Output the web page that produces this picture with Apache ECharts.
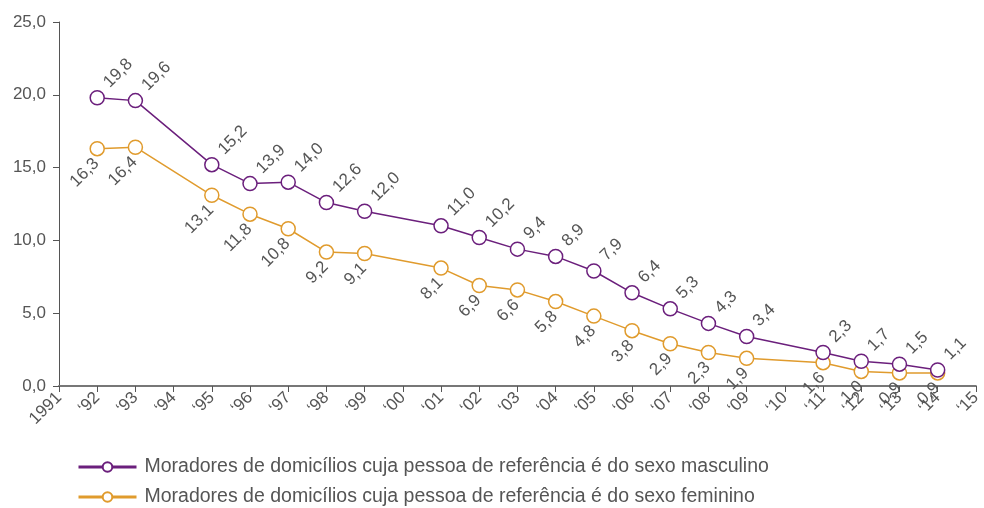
<!DOCTYPE html>
<html>
<head>
<meta charset="utf-8">
<script src="https://cdn.jsdelivr.net/npm/echarts@6/dist/echarts.min.js"></script>
<style>
  html, body { margin: 0; padding: 0; background: #fff; }
  #chart { width: 984px; height: 508px; }
</style>
</head>
<body>
<div id="chart"></div>
<script>
// categorias do eixo x (anos)
var anos = ['1991', '\u201892', '\u201893', '\u201894', '\u201895', '\u201896', '\u201897', '\u201898', '\u201899', '\u201800',
    '\u201801', '\u201802', '\u201803', '\u201804', '\u201805', '\u201806', '\u201807', '\u201808', '\u201809', '\u201810',
    '\u201811', '\u201812', '\u201813', '\u201814', '\u201815'];
var masculino = [null, 19.8, 19.6, null, 15.2, 13.9, 14.0, 12.6, 12.0, null, 11.0, 10.2, 9.4, 8.9, 7.9, 6.4, 5.3, 4.3, 3.4, null, 2.3, 1.7, 1.5, 1.1, null];
var feminino = [null, 16.3, 16.4, null, 13.1, 11.8, 10.8, 9.2, 9.1, null, 8.1, 6.9, 6.6, 5.8, 4.8, 3.8, 2.9, 2.3, 1.9, null, 1.6, 1.0, 0.9, 0.9, null];
var nomes = ['Moradores de domicílios cuja pessoa de referência é do sexo masculino',
    'Moradores de domicílios cuja pessoa de referência é do sexo feminino'];

var roxo = '#6b1f7c';
var laranja = '#e09b2d';
var cinza = '#555';
var fonte = '"Liberation Sans", Arial, sans-serif';

function virgula(v) {
    return v.toFixed(1).replace('.', ',');
}

var myChart = echarts.init(document.getElementById('chart'));
myChart.setOption({
    animation: false,
    textStyle: { fontFamily: fonte },
    grid: { left: 59, right: 1, top: 22, bottom: 122, containLabel: false },
    legend: {
        orient: 'vertical',
        left: 77,
        top: 456,
        padding: 0,
        itemGap: 8,
        itemWidth: 58,
        itemHeight: 12,
        lineStyle: { width: 3 },
        itemStyle: { borderWidth: 2 },
        textStyle: { fontSize: 19.5, lineHeight: 22, color: cinza, fontFamily: fonte, padding: [0, 0, 0, 3] },
        data: nomes
    },
    xAxis: {
        type: 'category',
        boundaryGap: false,
        data: anos,
        axisLine: { lineStyle: { color: '#777', width: 2 } },
        axisTick: { show: true, length: 6, lineStyle: { color: '#555' }, alignWithLabel: true },
        axisLabel: { rotate: 45, fontSize: 17, color: cinza, margin: 9, interval: 0 }
    },
    yAxis: {
        type: 'value',
        min: 0,
        max: 25,
        interval: 5,
        splitLine: { show: false }, // sem grade
        axisLine: { show: true, lineStyle: { color: '#555', width: 1 } },
        axisTick: { show: true, length: 6, lineStyle: { color: '#555' } },
        axisLabel: { fontSize: 17, color: cinza, margin: 13, formatter: virgula }
    },
    series: [{
        name: nomes[0],
        type: 'line',
        data: masculino,
        connectNulls: true,
        symbol: 'circle',
        symbolSize: 14,
        lineStyle: { color: roxo, width: 1.5 },
        itemStyle: { color: '#fff', borderColor: roxo, borderWidth: 1.5 },
        label: {
            show: true,
            position: [17, -5],
            rotate: 45,
            align: 'left',
            verticalAlign: 'middle',
            fontSize: 17,
            color: cinza,
            formatter: function (p) { return virgula(p.value); }
        },
        z: 3
    }, {
        name: nomes[1],
        type: 'line',
        data: feminino,
        connectNulls: true,
        symbol: 'circle',
        symbolSize: 14,
        lineStyle: { color: laranja, width: 1.5 },
        itemStyle: { color: '#fff', borderColor: laranja, borderWidth: 1.5 },
        label: {
            show: true,
            position: [7, 20],
            rotate: 45,
            align: 'right',
            verticalAlign: 'middle',
            fontSize: 17,
            color: cinza,
            formatter: function (p) { return virgula(p.value); }
        },
        z: 2
    }]
});
</script>
</body>
</html>
